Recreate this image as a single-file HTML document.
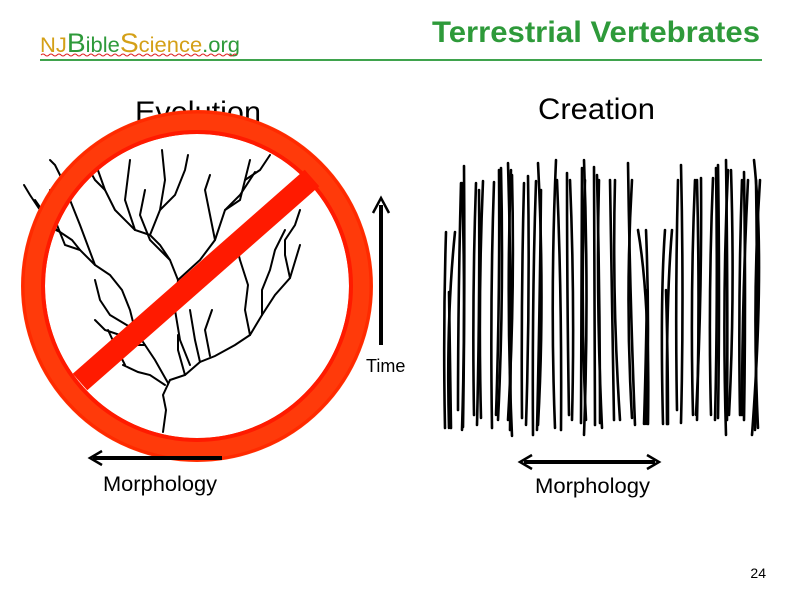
<!DOCTYPE html>
<html><head><meta charset="utf-8"><style>
html,body{margin:0;padding:0;background:#fff}
body{width:800px;height:600px;overflow:hidden;position:relative;font-family:"Liberation Sans",sans-serif}
</style></head><body>
<svg width="800" height="600" style="position:absolute;left:0;top:0">
<text x="760" y="42" text-anchor="end" font-family="Liberation Sans" font-weight="bold" font-size="30" fill="#2e9a3a" textLength="328" lengthAdjust="spacingAndGlyphs">Terrestrial Vertebrates</text>
<text x="40" y="52" font-family="Liberation Sans" font-size="21" textLength="200" lengthAdjust="spacingAndGlyphs"><tspan fill="#d4a017">NJ</tspan><tspan fill="#2e9a3a" font-size="27">B</tspan><tspan fill="#2e9a3a">ible</tspan><tspan fill="#d4a017" font-size="27">S</tspan><tspan fill="#d4a017">cience</tspan><tspan fill="#2e9a3a">.org</tspan></text>
<path d="M41 55 q2 -2 4 0 t4 0 t4 0 t4 0 t4 0 t4 0 t4 0 t4 0 t4 0 t4 0 t4 0 t4 0 t4 0 t4 0 t4 0 t4 0 t4 0 t4 0 t4 0 t4 0 t4 0 t4 0 t4 0 t4 0 t4 0 t4 0 t4 0 t4 0 t4 0 t4 0 t4 0 t4 0 t4 0 t4 0 t4 0 t4 0 t4 0 t4 0 t4 0 t4 0 t4 0 t4 0 t4 0 t4 0 t4 0 t4 0 t4 0 t4 0 t4 0" stroke="#e02020" fill="none" stroke-width="1"/>
<line x1="40" y1="60" x2="762" y2="60" stroke="#3fa34d" stroke-width="2"/>
<text x="135" y="122" font-size="30" font-family="Liberation Sans" textLength="126" lengthAdjust="spacingAndGlyphs">Evolution</text>
<text x="538" y="119" font-size="30" font-family="Liberation Sans" textLength="117" lengthAdjust="spacingAndGlyphs">Creation</text>
<g stroke="#000" stroke-width="2" fill="none" stroke-linecap="round">
<path d="M163 432 L166 410 L163 395 L170 380 L185 375 L200 362 L215 356 L235 345 L250 335 L262 315 L275 295 L290 278 L300 245"/>
<path d="M165 385 L150 375 L138 372 L123 365"/>
<path d="M168 383 L155 360 L145 345 L135 330 L130 310 L122 290 L110 275 L95 265 L80 250 L72 240 L60 232 L45 225 L40 210"/>
<path d="M95 265 L80 225 L72 205 L60 175"/>
<path d="M80 250 L65 245 L55 220 L50 190"/>
<path d="M135 330 L110 315 L100 300 L95 280"/>
<path d="M145 345 L130 345 L120 335 L105 330 L95 320"/>
<path d="M190 365 L180 340 L175 310 L178 280 L170 260 L150 240 L140 215 L145 190"/>
<path d="M178 280 L200 260 L215 240 L225 210 L240 195 L255 172"/>
<path d="M170 260 L160 245 L150 235 L135 230 L125 200 L130 160"/>
<path d="M135 230 L115 210 L105 190 L95 162"/>
<path d="M105 190 L95 180 L85 162"/>
<path d="M150 235 L160 210 L165 180 L162 150"/>
<path d="M160 210 L175 195 L185 170 L188 155"/>
<path d="M215 240 L210 215 L205 190 L210 175"/>
<path d="M225 210 L240 200 L245 180 L250 160"/>
<path d="M245 180 L260 170 L270 155"/>
<path d="M200 362 L195 340 L190 310"/>
<path d="M250 335 L245 310 L248 285 L240 260 L235 240"/>
<path d="M262 315 L262 290 L270 270 L275 250 L285 230"/>
<path d="M290 278 L285 255 L285 240 L295 225 L300 210"/>
<path d="M210 356 L205 330 L212 310"/>
<path d="M125 365 L115 345 L108 330"/>
<path d="M185 375 L178 350 L178 335"/>
<path d="M60 232 L50 225 L42 210 L35 200"/>
<path d="M40 210 L30 195 L24 185"/>
<path d="M60 175 L55 165 L50 160"/>
</g>
<circle cx="197" cy="286" r="164" fill="none" stroke="#ff3a0a" stroke-width="24"/>
<circle cx="197" cy="286" r="154" fill="none" stroke="#ff1a00" stroke-width="4"/>
<circle cx="197" cy="286" r="174" fill="none" stroke="#ff2a00" stroke-width="3"/>
<line x1="80" y1="382" x2="312" y2="178" stroke="#ff1a00" stroke-width="22"/>
<line x1="381" y1="345" x2="381" y2="205" stroke="#000" stroke-width="4"/>
<path d="M373 213 L381 198 L389 213" stroke="#000" stroke-width="2.5" fill="none"/>
<text x="366" y="372" font-size="18" font-family="Liberation Sans">Time</text>
<line x1="93" y1="458" x2="222" y2="458" stroke="#000" stroke-width="4"/>
<path d="M102 451 L90 458 L102 465" stroke="#000" stroke-width="2.5" fill="none"/>
<text x="103" y="491" font-size="21" font-family="Liberation Sans" textLength="114" lengthAdjust="spacingAndGlyphs">Morphology</text>
<line x1="524" y1="462" x2="655" y2="462" stroke="#000" stroke-width="4"/>
<path d="M532 455 L520 462 L532 469" stroke="#000" stroke-width="2.5" fill="none"/>
<path d="M647 455 L659 462 L647 469" stroke="#000" stroke-width="2.5" fill="none"/>
<text x="535" y="493" font-size="21" font-family="Liberation Sans" textLength="115" lengthAdjust="spacingAndGlyphs">Morphology</text>
<g stroke="#000" stroke-width="2.6" fill="none" stroke-linecap="round">
<path d="M446 232 Q443 330 445 428"/><path d="M455 232 Q446 320 449 428"/><path d="M449 292 Q450 360 451 428"/>
<path d="M461 183 Q458 300 458 410"/><path d="M464 166 Q465 300 463 427"/><path d="M462 183 Q466 300 462 430"/>
<path d="M476 183 Q472 300 474 415"/><path d="M479 190 Q480 300 477 425"/><path d="M483 181 Q478 300 481 418"/>
<path d="M494 182 Q490 300 492 428"/><path d="M499 170 Q500 300 496 415"/><path d="M501 168 Q504 300 498 420"/>
<path d="M508 163 Q512 300 510 430"/><path d="M511 170 Q506 300 512 436"/><path d="M512 175 Q515 300 508 420"/>
<path d="M524 183 Q521 300 522 418"/><path d="M528 176 Q530 300 526 425"/>
<path d="M536 181 Q532 300 533 435"/><path d="M538 163 Q545 300 538 425"/><path d="M541 190 Q540 300 537 430"/>
<path d="M556 160 Q550 300 555 428"/><path d="M557 180 Q562 300 561 430"/>
<path d="M567 173 Q567 300 569 415"/><path d="M570 180 Q575 300 572 420"/>
<path d="M582 168 Q582 300 581 423"/><path d="M584 160 Q589 300 584 435"/><path d="M585 180 Q580 300 586 420"/>
<path d="M594 167 Q595 300 595 425"/><path d="M597 175 Q600 300 600 423"/><path d="M599 180 Q596 300 602 428"/>
<path d="M610 180 Q612 300 614 420"/><path d="M615 180 Q612 300 620 420"/>
<path d="M628 163 Q630 300 635 425"/><path d="M632 180 Q625 300 632 418"/>
<path d="M638 230 Q650 300 648 424"/><path d="M646 230 Q650 330 646 424"/><path d="M647 290 Q646 360 644 424"/>
<path d="M665 230 Q660 300 663 424"/><path d="M672 230 Q666 300 667 424"/><path d="M666 290 Q668 360 668 424"/>
<path d="M678 180 Q675 300 677 410"/><path d="M681 165 Q684 300 681 423"/>
<path d="M695 180 Q690 300 693 415"/><path d="M697 180 Q700 300 697 420"/><path d="M701 178 Q702 300 696 415"/>
<path d="M713 178 Q708 300 711 415"/><path d="M716 168 Q718 300 715 420"/><path d="M718 165 Q720 300 718 418"/>
<path d="M726 160 Q728 300 727 420"/><path d="M728 170 Q722 300 726 435"/><path d="M731 170 Q735 300 729 415"/>
<path d="M742 180 Q738 300 740 415"/><path d="M744 172 Q746 300 744 420"/><path d="M748 180 Q742 300 742 415"/>
<path d="M754 160 Q765 260 752 435"/><path d="M756 180 Q758 300 755 430"/><path d="M760 180 Q752 300 758 428"/>
</g>
<text x="766" y="578" text-anchor="end" font-size="14" font-family="Liberation Sans">24</text>
</svg>
</body></html>
